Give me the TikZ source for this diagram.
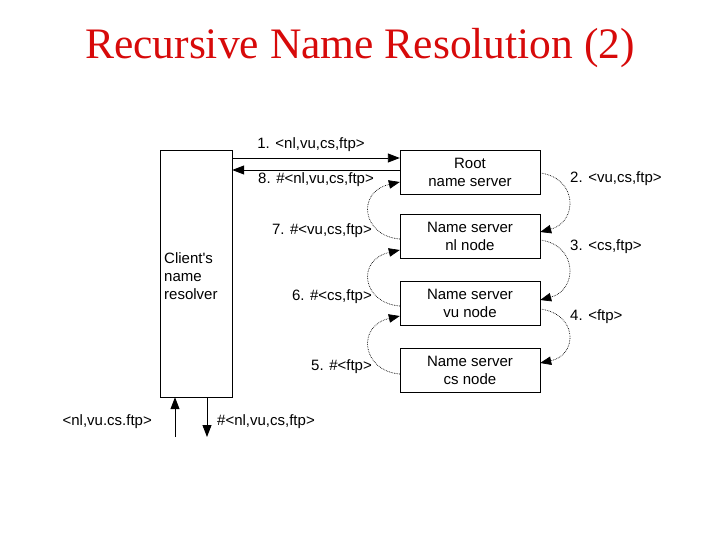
\documentclass[tikz,border=0pt]{standalone}
\usepackage{fontspec}
\setmainfont{Liberation Sans}
\newfontfamily\titlefont{Liberation Serif}
\usetikzlibrary{arrows.meta}
\definecolor{titlered}{RGB}{215,10,10}
\tikzset{
  srv/.style={draw, minimum width=140pt, minimum height=44pt, align=center, inner sep=0pt},
  msg/.style={inner sep=1pt},
  arr/.style={-{Triangle[length=12pt,width=9pt]}, line width=0.9pt},
  dotarr/.style={-{Triangle[length=11pt,width=8.5pt]}, densely dotted, line width=0.7pt}
}
\begin{document}
\begin{tikzpicture}[x=1pt,y=-1pt,font=\fontsize{15}{18}\selectfont]
\useasboundingbox (0,0) rectangle (720,540);
\node[anchor=base, text=titlered, font=\titlefont\fontsize{43.5}{48}\selectfont] (title) at (360,59) {Recursive Name Resolution (2)};
% client and servers
\node[draw, minimum width=72pt, minimum height=247pt, inner sep=0pt] (client) at (196,273.5) {};
\node[anchor=west, align=left, inner sep=0pt] (clienttxt) at (164,276) {Client\textquotesingle s\\name\\resolver};
\node[srv] (root) at (470,172) {Root\\name server};
\node[srv] (nl) at (470,236.5) {Name server\\nl node};
\node[srv] (vu) at (470,303) {Name server\\vu node};
\node[srv] (cs) at (470,370) {Name server\\cs node};
% request and reply with the root
\draw[arr] (client.east |- 0,158) -- (root.west |- 0,158);
\draw[arr] (root.west |- 0,170) -- (client.east |- 0,170);
\node[msg] (m1) at (311,145) {1. <nl,vu,cs,ftp>};
\node[msg] (m8) at (316,180) {8. \#<nl,vu,cs,ftp>};
% forwarded requests
\draw[dotarr] (root.east |- 0,173) .. controls (578,178) and (578,222) .. (nl.east |- 0,232);
\draw[dotarr] (nl.east |- 0,240) .. controls (578,245) and (578,290) .. (vu.east |- 0,300);
\draw[dotarr] (vu.east |- 0,309) .. controls (578,314) and (578,355) .. (cs.east |- 0,363);
\node[msg, anchor=west] (m2) at (569,179) {2. <vu,cs,ftp>};
\node[msg, anchor=west] (m3) at (569,247) {3. <cs,ftp>};
\node[msg, anchor=west] (m4) at (569,317) {4. <ftp>};
% returned answers
\draw[dotarr] (nl.west |- 0,239) .. controls (362,236) and (356,192) .. (root.west |- 0,182);
\draw[dotarr] (vu.west |- 0,306) .. controls (362,303) and (356,260) .. (nl.west |- 0,250);
\draw[dotarr] (cs.west |- 0,374) .. controls (362,371) and (356,326) .. (vu.west |- 0,316);
\node[msg, anchor=east] (m7) at (373,231) {7. \#<vu,cs,ftp>};
\node[msg, anchor=east] (m6) at (373,297) {6. \#<cs,ftp>};
\node[msg, anchor=east] (m5) at (373,367) {5. \#<ftp>};
% client in and out
\coordinate (inq) at (175,437);
\coordinate (outr) at (207,437);
\draw[arr] (inq) -- (inq |- client.south);
\draw[arr] (outr |- client.south) -- (outr);
\node[msg, anchor=east] (qin) at (153,422) {<nl,vu.cs.ftp>};
\node[msg, anchor=west] (qout) at (216,422) {\#<nl,vu,cs,ftp>};
\end{tikzpicture}
\end{document}
